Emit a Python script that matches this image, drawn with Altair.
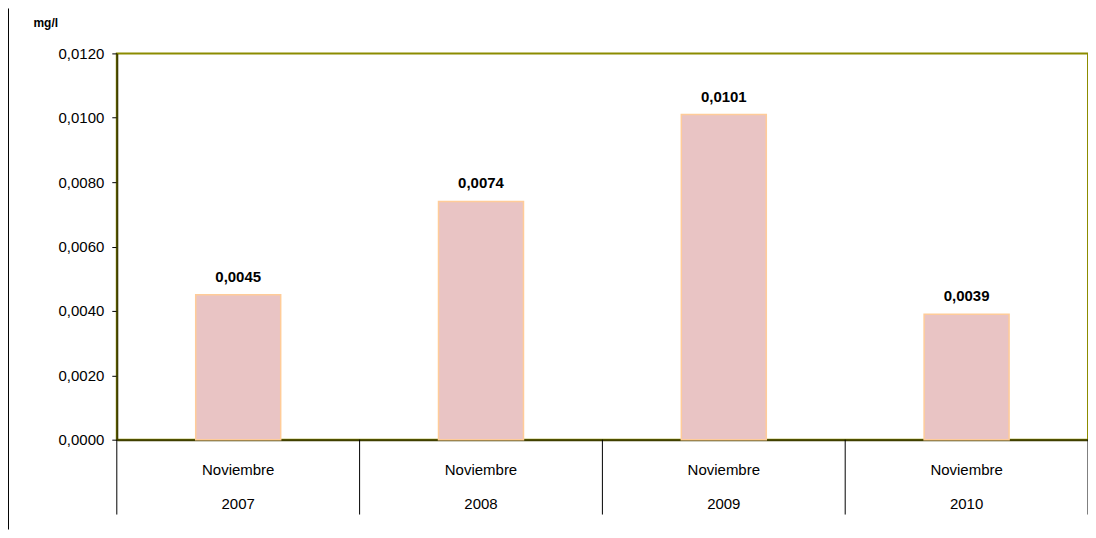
import altair as alt
import pandas as pd

months = ["Noviembre", "Noviembre", "Noviembre", "Noviembre"]
years = ["2007", "2008", "2009", "2010"]
values = [0.0045, 0.0074, 0.0101, 0.0039]

df = pd.DataFrame({"mes": months, "anio": years, "valor": values})
df["label"] = [f"{v:.4f}".replace(".", ",") for v in values]

W, H = 973, 387
FONT = "Liberation Sans"

xenc = alt.X("anio:N", sort=years,
             scale=alt.Scale(paddingInner=0, paddingOuter=0),
             axis=alt.Axis(labels=False, ticks=False, title=None,
                           domainColor="#3f3f00", domainWidth=2))

yenc = alt.Y("valor:Q",
             scale=alt.Scale(domain=[0, 0.012], nice=False),
             axis=alt.Axis(values=[0, 0.002, 0.004, 0.006, 0.008, 0.010, 0.012],
                           labelExpr="replace(format(datum.value, '.4f'), '.', ',')",
                           labelFont=FONT, labelFontSize=15, labelColor="#000000",
                           labelPadding=8, tickSize=5, tickColor="#000000",
                           domainColor="#3f3f00", domainWidth=2, grid=False,
                           title="mg/l", titleAngle=0, titleFont=FONT,
                           titleFontSize=12, titleFontWeight="bold",
                           titleX=-84, titleY=-31, titleAlign="left",
                           titleBaseline="middle", titleColor="#000000"))

base = alt.Chart(df)

bars = base.mark_bar(width={"band": 0.35}, color="#E9C4C4",
                     stroke="#FFCC99", strokeWidth=1.5).encode(x=xenc, y=yenc)

labels = base.mark_text(font=FONT, fontSize=15, fontWeight="bold",
                        baseline="bottom", dy=-10, color="#000000").encode(
    x=alt.X("anio:N", sort=years), y="valor:Q", text="label:N")

mes_text = base.mark_text(font=FONT, fontSize=15, color="#000000",
                          baseline="middle").encode(
    x=alt.X("anio:N", sort=years), y=alt.value(417), text="mes:N")

anio_text = base.mark_text(font=FONT, fontSize=15, color="#000000",
                           baseline="middle").encode(
    x=alt.X("anio:N", sort=years), y=alt.value(451), text="anio:N")

sep_left = base.mark_rule(color="#000000", strokeWidth=1).encode(
    x=alt.X("anio:N", sort=years, bandPosition=0),
    y=alt.value(387), y2=alt.value(462))

sep_right = base.transform_filter(alt.datum.anio == years[-1]).mark_rule(
    color="#000000", strokeWidth=1).encode(
    x=alt.X("anio:N", sort=years, bandPosition=1),
    y=alt.value(387), y2=alt.value(462))

outer = base.transform_filter(alt.datum.anio == years[0]).mark_rule(
    color="#000000", strokeWidth=1).encode(
    x=alt.value(-108.5), y=alt.value(-45), y2=alt.value(477))

chart = alt.layer(bars, labels, mes_text, anio_text, sep_left, sep_right, outer).properties(
    width=W, height=H,
    autosize=alt.AutoSizeParams(type="none"),
    padding={"left": 109, "top": 45, "right": 0, "bottom": 90},
).configure_view(stroke="#8C8C00", strokeWidth=2, clip=False)

chart.save("out.html", embed_options={"renderer": "svg", "actions": False})
